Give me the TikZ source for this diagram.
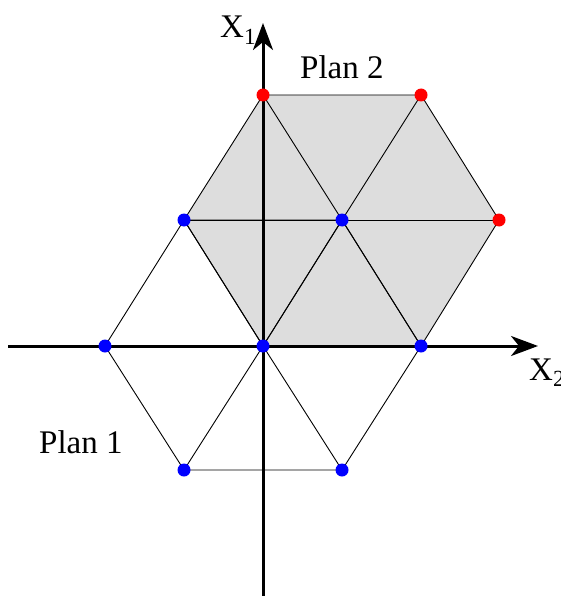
\documentclass[tikz,border=0pt]{standalone}
\usepackage{fontspec}
\setmainfont{Liberation Serif}
\usetikzlibrary{arrows.meta}
\begin{document}
\begin{tikzpicture}[x=1pt,y=-1pt,
  thin line/.style={line width=0.9pt, black},
  axis/.style={line width=3pt, -{Stealth[length=27pt,width=20pt,inset=8pt]}},
  bdot/.style={circle, fill=blue, inner sep=0pt, minimum size=13pt},
  rdot/.style={circle, fill=red, inner sep=0pt, minimum size=13pt},
  lbl/.style={font=\fontsize{33}{38}\selectfont, inner sep=0pt}]
\useasboundingbox (0,0) rectangle (560,596);
% coordinates
\coordinate (O) at (263,346);
\coordinate (L) at (105,346);
\coordinate (R) at (421,346);
\coordinate (UL) at (184,220);
\coordinate (UR) at (342,220);
\coordinate (DL) at (184,470);
\coordinate (DR) at (342,470);
\coordinate (T1) at (263,95);
\coordinate (T2) at (421,95);
\coordinate (E) at (499,220);
% shaded plan 2
\fill[gray!27] (T1) -- (T2) -- (E) -- (R) -- (O) -- (UL) -- cycle;
% plan 2 lines
\draw[thin line] (T1) -- (T2) -- (E) -- (R) -- (O) -- (UL) -- cycle;
\draw[thin line] (UR) -- (T1);
\draw[thin line] (UR) -- (T2);
\draw[thin line] (UR) -- (E);
\draw[thin line] (UR) -- (R);
\draw[thin line] (UR) -- (O);
\draw[thin line] (UR) -- (UL);
% plan 1 lines
\draw[thin line] (L) -- (UL) -- (UR) -- (R) -- (DR) -- (DL) -- cycle;
\draw[thin line] (O) -- (UL);
\draw[thin line] (O) -- (UR);
\draw[thin line] (O) -- (DL);
\draw[thin line] (O) -- (DR);
% axes
\coordinate (xs) at (8,346);
\coordinate (xe) at (538,346);
\coordinate (ys) at (263,596);
\coordinate (ye) at (263,23);
\draw[axis] (xs) -- (xe);
\draw[axis] (ys) -- (ye);
% dots
\node[bdot] (nO) at (O) {};
\node[bdot] (nL) at (L) {};
\node[bdot] (nR) at (R) {};
\node[bdot] (nUL) at (UL) {};
\node[bdot] (nUR) at (UR) {};
\node[bdot] (nDL) at (DL) {};
\node[bdot] (nDR) at (DR) {};
\node[rdot] (nT1) at (T1) {};
\node[rdot] (nT2) at (T2) {};
\node[rdot] (nE) at (E) {};
% labels
\node[lbl, anchor=base west] (x1) at (220,38) {X\textsubscript{1}};
\node[lbl, anchor=base west] (x2) at (529,380) {X\textsubscript{2}};
\node[lbl, anchor=base west] (p2) at (300,79) {Plan 2};
\node[lbl, anchor=base west] (p1) at (39,453) {Plan 1};
\end{tikzpicture}
\end{document}
